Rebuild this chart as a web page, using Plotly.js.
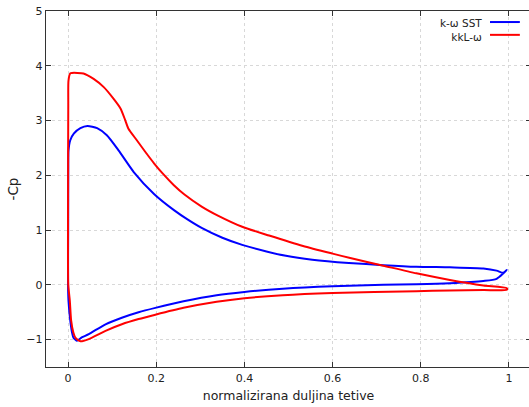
<!DOCTYPE html>
<html>
<head>
<meta charset="utf-8">
<script src="https://cdn.plot.ly/plotly-3.0.1.min.js"></script>
<style>
html, body { margin: 0; padding: 0; overflow: hidden; background: #fff; }
#chart { width: 535px; height: 407px; }
</style>
</head>
<body>
<div id="chart"></div>
<script>
// k-ω SST: upper surface (trailing edge -> leading edge), then lower surface (leading edge -> trailing edge)
const sstX = [0.995, 0.987, 0.972, 0.942, 0.866, 0.79, 0.715, 0.637, 0.554, 0.494, 0.45, 0.395, 0.35, 0.303, 0.27, 0.241, 0.195, 0.149, 0.115, 0.088, 0.066, 0.044, 0.028, 0.013, 0.005, 0.001, 0.0005,
              0.0003, 0.0, 0.001, 0.005, 0.009, 0.012, 0.020, 0.031, 0.047, 0.085, 0.122, 0.160, 0.198, 0.262, 0.337, 0.4, 0.487, 0.6, 0.715, 0.79, 0.866, 0.942, 0.972, 0.995];
const sstCp = [0.27, 0.22, 0.26, 0.30, 0.32, 0.33, 0.36, 0.40, 0.46, 0.53, 0.61, 0.73, 0.86, 1.04, 1.20, 1.36, 1.66, 2.06, 2.45, 2.73, 2.86, 2.90, 2.86, 2.76, 2.64, 2.45, 2.2,
               1.0, 0.0, -0.29, -0.65, -0.87, -0.96, -1.02, -0.96, -0.90, -0.72, -0.60, -0.50, -0.42, -0.30, -0.19, -0.13, -0.07, -0.025, 0.0, 0.01, 0.03, 0.07, 0.11, 0.27];

// kkL-ω
const kklX = [0.995, 0.942, 0.866, 0.79, 0.715, 0.64, 0.60, 0.533, 0.456, 0.395, 0.341, 0.303, 0.264, 0.240, 0.215, 0.195, 0.175, 0.156, 0.137, 0.130, 0.119, 0.103, 0.081, 0.058, 0.035, 0.009, 0.005, 0.001, 0.0005,
              0.0, 0.0005, 0.004, 0.007, 0.012, 0.017, 0.028, 0.047, 0.085, 0.122, 0.160, 0.198, 0.262, 0.337, 0.4, 0.487, 0.6, 0.79, 0.866, 0.942, 0.995, 0.995];
const kklCp = [-0.06, -0.01, 0.09, 0.21, 0.35, 0.49, 0.57, 0.71, 0.90, 1.06, 1.26, 1.43, 1.65, 1.82, 2.03, 2.22, 2.43, 2.64, 2.85, 3.0, 3.22, 3.40, 3.61, 3.76, 3.86, 3.87, 3.86, 3.73, 3.3,
               1.5, 0.0, -0.29, -0.65, -0.87, -0.97, -1.03, -0.99, -0.84, -0.72, -0.625, -0.545, -0.42, -0.31, -0.245, -0.19, -0.15, -0.115, -0.105, -0.095, -0.09, -0.06];

const seriesNames = ["k-ω SST", "kkL-ω"];
const seriesColors = ["#0000ff", "#ff0000"];

const traces = [
  {x: sstX, y: sstCp, name: seriesNames[0], mode: "lines", line: {color: seriesColors[0], width: 2, shape: "spline", smoothing: 0.6}},
  {x: kklX, y: kklCp, name: seriesNames[1], mode: "lines", line: {color: seriesColors[1], width: 2, shape: "spline", smoothing: 0.6}}
];

const font = "DejaVu Sans, sans-serif";
const axisCommon = {
  showline: true, linecolor: "#333", linewidth: 1.3, mirror: "ticks",
  ticks: "inside", ticklen: 5, tickcolor: "#333", tickwidth: 1,
  showgrid: true, gridcolor: "#d8d8d8", griddash: "dot", gridwidth: 1,
  zeroline: false, tickfont: {family: font, size: 11, color: "#222"}
};

const layout = {
  width: 535, height: 407,
  margin: {l: 46, r: 4, t: 11, b: 40},
  paper_bgcolor: "#fff", plot_bgcolor: "#fff",
  showlegend: false,
  xaxis: Object.assign({}, axisCommon, {
    range: [-0.05, 1.05], tick0: 0, dtick: 0.2,
    title: {text: "normalizirana duljina tetive", font: {family: font, size: 12.5, color: "#222"}, standoff: 7}
  }),
  yaxis: Object.assign({}, axisCommon, {
    range: [-1.5, 5], tick0: 0, dtick: 1,
    title: {text: "-Cp", font: {family: font, size: 13.5, color: "#222"}, standoff: 4}
  }),
  annotations: [
    {xref: "paper", yref: "paper", x: 0.902, y: 0.987, xanchor: "right", yanchor: "top", align: "right", showarrow: false, borderpad: 0,
     text: seriesNames.join("<br>"), font: {family: font, size: 10.5, color: "#222"}}
  ],
  shapes: [
    {type: "line", xref: "paper", yref: "paper", x0: 0.9155, x1: 0.977, y0: 0.969, y1: 0.969, line: {color: seriesColors[0], width: 2}},
    {type: "line", xref: "paper", yref: "paper", x0: 0.9155, x1: 0.977, y0: 0.933, y1: 0.933, line: {color: seriesColors[1], width: 2}}
  ]
};

Plotly.newPlot("chart", traces, layout, {displayModeBar: false, staticPlot: true});
</script>
</body>
</html>
